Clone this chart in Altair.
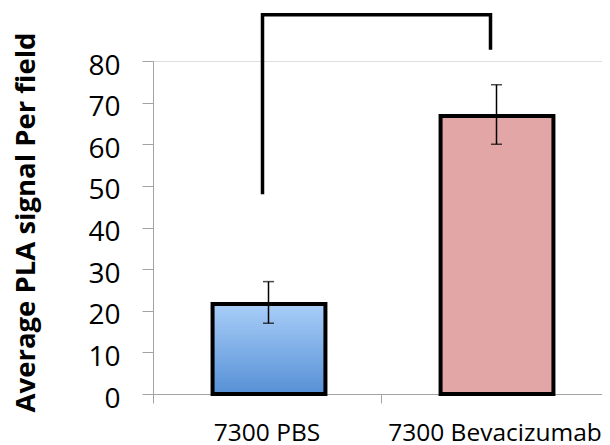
import altair as alt
import pandas as pd

categories = ["7300 PBS", "7300 Bevacizumab"]
means = [21.6, 66.8]
err_low = [17.0, 60.0]
err_high = [27.0, 74.3]

# significance bracket (category, value, drawing order)
bracket_cat = ["7300 PBS", "7300 PBS", "7300 Bevacizumab", "7300 Bevacizumab"]
bracket_val = [48.0, 91.1, 91.1, 82.7]
bracket_step = [0, 1, 2, 3]

y_ticks = [0, 10, 20, 30, 40, 50, 60, 70, 80]

df = pd.DataFrame({"cat": categories, "mean": means, "lo": err_low, "hi": err_high})
bdf = pd.DataFrame({"cat": bracket_cat, "val": bracket_val, "step": bracket_step})

FONT = "Open Sans"
AXIS_GRAY = "#a3a3a3"

x_enc = alt.X(
    "cat:N",
    sort=categories,
    scale=alt.Scale(paddingInner=0, paddingOuter=0, range=[0, 456]),
    axis=alt.Axis(
        title=None,
        labelAngle=0,
        bandPosition=0,
        labelFontSize=24.5,
        labelFont=FONT,
        labelColor="black",
        labelPadding=18,
        labelLimit=400,
        tickSize=9,
        tickColor=AXIS_GRAY,
        domainColor=AXIS_GRAY,
        labelBaseline="top",
    ),
)

y_scale = alt.Scale(domain=[0, 80], nice=False)
y_axis = alt.Axis(
    title="Average PLA signal Per field",
    values=y_ticks,
    grid=False,
    labelFontSize=28,
    labelFont=FONT,
    labelColor="black",
    labelPadding=22,
    labelOffset=5,
    tickSize=11,
    tickColor=AXIS_GRAY,
    domainColor=AXIS_GRAY,
    titleFont=FONT,
    titleFontSize=27.5,
    titleFontWeight="bold",
    titleColor="black",
    titlePadding=47,
    titleY=161,
)

base = alt.Chart(df)

gradient = alt.Gradient(
    gradient="linear",
    stops=[
        alt.GradientStop(color="#a9cef8", offset=0),
        alt.GradientStop(color="#5690d6", offset=1),
    ],
    x1=0, x2=0, y1=0, y2=1,
)

bar_pbs = base.transform_filter(alt.datum.cat == categories[0]).mark_bar(
    width=alt.RelativeBandSize(0.495), fill=gradient, stroke="black", strokeWidth=4, xOffset=2
).encode(x=x_enc, y=alt.Y("mean:Q", scale=y_scale, axis=y_axis))

bar_bev = base.transform_filter(alt.datum.cat == categories[1]).mark_bar(
    width=alt.RelativeBandSize(0.495), fill="#e3a6a6", stroke="black", strokeWidth=4, xOffset=2
).encode(x=x_enc, y=alt.Y("mean:Q", scale=y_scale))

err_rule = base.mark_rule(color="black", strokeWidth=1.5, xOffset=1.5).encode(
    x=x_enc, y=alt.Y("lo:Q", scale=y_scale), y2="hi:Q"
)
cap_hi = base.mark_tick(color="black", size=11, thickness=1.5, orient="horizontal", xOffset=1.5).encode(
    x=x_enc, y=alt.Y("hi:Q", scale=y_scale)
)
cap_lo = base.mark_tick(color="black", size=11, thickness=1.5, orient="horizontal", xOffset=1.5).encode(
    x=x_enc, y=alt.Y("lo:Q", scale=y_scale)
)

bracket = alt.Chart(bdf).mark_line(
    color="black", strokeWidth=3.5, xOffset=-4.5, strokeJoin="miter", strokeCap="butt"
).encode(
    x=x_enc,
    y=alt.Y("val:Q", scale=y_scale),
    order=alt.Order("step:Q"),
)

chart = alt.layer(bar_pbs, bar_bev, err_rule, cap_hi, cap_lo, bracket).properties(
    width=449,
    height=333,
    autosize=alt.AutoSizeParams(type="none"),
    padding={"left": 145, "top": 53, "right": 0, "bottom": 51},
).configure_view(stroke=None).configure(font=FONT)

chart.save("out.html", embed_options={"renderer": "svg", "actions": False})
